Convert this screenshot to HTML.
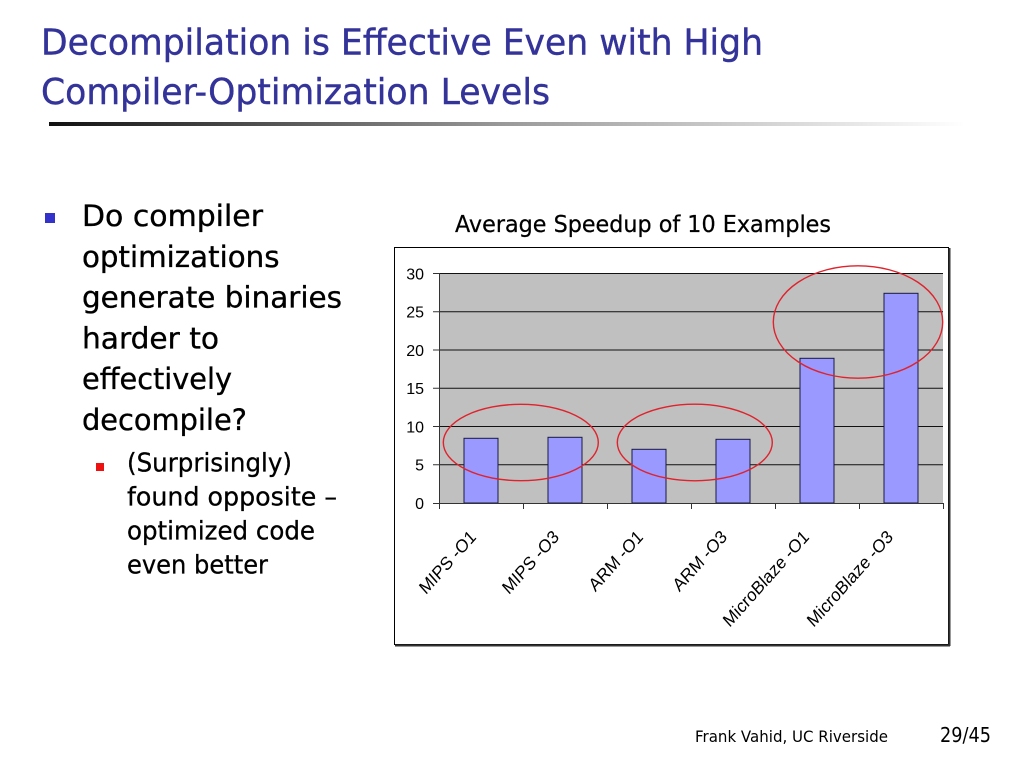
<!DOCTYPE html>
<html><head><meta charset="utf-8"><style>
html,body{margin:0;padding:0;background:#fff;}
svg{display:block;}
</style></head><body>
<svg width="1024" height="768" viewBox="0 0 1024 768" xmlns="http://www.w3.org/2000/svg">
<defs>
<linearGradient id="g" x1="0" y1="0" x2="1" y2="0">
<stop offset="0" stop-color="#111"/>
<stop offset="0.5" stop-color="#9a9a9a"/>
<stop offset="1" stop-color="#fff"/>
</linearGradient>
</defs>
<rect width="1024" height="768" fill="#fff"/>
<!-- Title -->
<g font-family="DejaVu Sans, Liberation Sans, sans-serif" font-size="36" fill="#333399" stroke="#333399" stroke-width="0.4">
<text x="41" y="54.5" textLength="722" lengthAdjust="spacingAndGlyphs">Decompilation is Effective Even with High</text>
<text x="41" y="104" textLength="509" lengthAdjust="spacingAndGlyphs">Compiler-Optimization Levels</text>
</g>
<rect x="49" y="122" width="916" height="4" fill="url(#g)"/>

<!-- Bullets -->
<rect x="45" y="213" width="10" height="10" fill="#3333cc"/>
<g font-family="DejaVu Sans, Liberation Sans, sans-serif" font-size="29" fill="#000" stroke="#000" stroke-width="0.35">
<text x="82" y="226" textLength="181" lengthAdjust="spacingAndGlyphs">Do compiler</text>
<text x="82" y="266.8" textLength="197.5" lengthAdjust="spacingAndGlyphs">optimizations</text>
<text x="82" y="307.6" textLength="260" lengthAdjust="spacingAndGlyphs">generate binaries</text>
<text x="82" y="348.4" textLength="137" lengthAdjust="spacingAndGlyphs">harder to</text>
<text x="82" y="389.2" textLength="150" lengthAdjust="spacingAndGlyphs">effectively</text>
<text x="82" y="430" textLength="165" lengthAdjust="spacingAndGlyphs">decompile?</text>
</g>
<rect x="96" y="463" width="8" height="8" fill="#ee1111"/>
<g font-family="DejaVu Sans, Liberation Sans, sans-serif" font-size="25.5" fill="#000" stroke="#000" stroke-width="0.3">
<text x="127" y="471.5" textLength="165" lengthAdjust="spacingAndGlyphs">(Surprisingly)</text>
<text x="127" y="505.5" textLength="210" lengthAdjust="spacingAndGlyphs">found opposite –</text>
<text x="127" y="539.5" textLength="188" lengthAdjust="spacingAndGlyphs">optimized code</text>
<text x="127" y="573.5" textLength="141" lengthAdjust="spacingAndGlyphs">even better</text>
</g>

<!-- Chart title -->
<text x="455" y="232" font-family="DejaVu Sans, Liberation Sans, sans-serif" font-size="23" fill="#000" stroke="#000" stroke-width="0.25" textLength="376" lengthAdjust="spacingAndGlyphs">Average Speedup of 10 Examples</text>

<!-- Chart box -->
<rect x="394.5" y="247.5" width="554" height="397" fill="#fff" stroke="#000" stroke-width="1"/>
<line x1="395" y1="645.5" x2="950" y2="645.5" stroke="#333" stroke-width="2"/>
<line x1="949.5" y1="248" x2="949.5" y2="646" stroke="#333" stroke-width="2"/>

<!-- Plot area -->
<rect x="439" y="273.5" width="504" height="229.5" fill="#c0c0c0"/>
<g stroke="#111" stroke-width="1">
<line x1="439" y1="273.5" x2="943" y2="273.5"/>
<line x1="439" y1="311.75" x2="943" y2="311.75"/>
<line x1="439" y1="350" x2="943" y2="350"/>
<line x1="439" y1="388.25" x2="943" y2="388.25"/>
<line x1="439" y1="426.5" x2="943" y2="426.5"/>
<line x1="439" y1="464.75" x2="943" y2="464.75"/>
</g>
<!-- Bars -->
<g fill="#9999ff" stroke="#1a1a40" stroke-width="1">
<rect x="464" y="438.3" width="34" height="64.7"/>
<rect x="548" y="437.3" width="34" height="65.7"/>
<rect x="632" y="449.3" width="34" height="53.7"/>
<rect x="716" y="439.3" width="34" height="63.7"/>
<rect x="800" y="358.3" width="34" height="144.7"/>
<rect x="884" y="293.3" width="34" height="209.7"/>
</g>
<!-- Axes -->
<g stroke="#333" stroke-width="1">
<line x1="439.5" y1="273" x2="439.5" y2="503.5"/>
<line x1="439" y1="503.5" x2="943" y2="503.5"/>
<line x1="433" y1="273.5" x2="439" y2="273.5"/>
<line x1="433" y1="311.75" x2="439" y2="311.75"/>
<line x1="433" y1="350" x2="439" y2="350"/>
<line x1="433" y1="388.25" x2="439" y2="388.25"/>
<line x1="433" y1="426.5" x2="439" y2="426.5"/>
<line x1="433" y1="464.75" x2="439" y2="464.75"/>
<line x1="433" y1="503.5" x2="439" y2="503.5"/>
<line x1="439.5" y1="503" x2="439.5" y2="509"/>
<line x1="523.5" y1="503" x2="523.5" y2="509"/>
<line x1="607.5" y1="503" x2="607.5" y2="509"/>
<line x1="691.5" y1="503" x2="691.5" y2="509"/>
<line x1="775.5" y1="503" x2="775.5" y2="509"/>
<line x1="859.5" y1="503" x2="859.5" y2="509"/>
<line x1="943.5" y1="503" x2="943.5" y2="509"/>
</g>
<!-- Y labels -->
<g font-family="Liberation Sans, Arial, sans-serif" font-size="16" fill="#000" text-anchor="end">
<text x="424" y="279.5">30</text>
<text x="424" y="317.5">25</text>
<text x="424" y="355.8">20</text>
<text x="424" y="394">15</text>
<text x="424" y="432.3">10</text>
<text x="424" y="470.5">5</text>
<text x="424" y="509">0</text>
</g>
<!-- X labels -->
<g font-family="Liberation Sans, Arial, sans-serif" font-size="16.5" fill="#000" text-anchor="end">
<text transform="translate(477,538) scale(1,1.12) rotate(-45)">MIPS -O1</text>
<text transform="translate(560,538) scale(1,1.12) rotate(-45)">MIPS -O3</text>
<text transform="translate(644,538) scale(1,1.12) rotate(-45)">ARM -O1</text>
<text transform="translate(728,538) scale(1,1.12) rotate(-45)">ARM -O3</text>
<text transform="translate(810,538) scale(1,1.12) rotate(-45)">MicroBlaze -O1</text>
<text transform="translate(894,538) scale(1,1.12) rotate(-45)">MicroBlaze -O3</text>
</g>
<!-- Ellipses -->
<g fill="none" stroke="#e0222c" stroke-width="1.4">
<ellipse cx="520.8" cy="442.5" rx="77.5" ry="38.2"/>
<ellipse cx="694.8" cy="442.5" rx="77.5" ry="38.3"/>
<ellipse cx="858" cy="322" rx="84.7" ry="56.2"/>
</g>

<!-- Footer -->
<text x="695" y="742" font-family="DejaVu Sans, Liberation Sans, sans-serif" font-size="16" fill="#000" textLength="193" lengthAdjust="spacingAndGlyphs">Frank Vahid, UC Riverside</text>
<text x="940" y="742" font-family="DejaVu Sans, Liberation Sans, sans-serif" font-size="20" fill="#000" textLength="51" lengthAdjust="spacingAndGlyphs">29/45</text>
</svg>
</body></html>
